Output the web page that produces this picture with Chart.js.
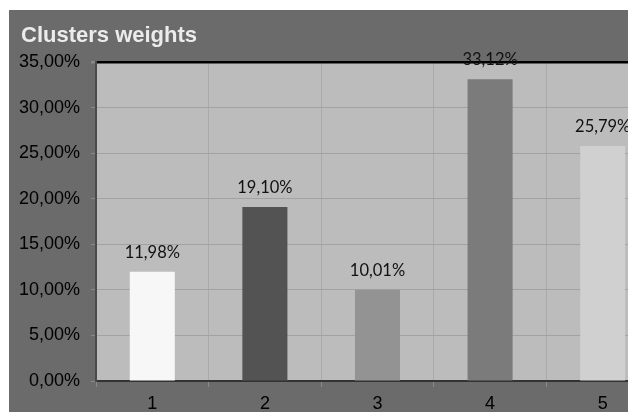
<!DOCTYPE html>
<html>
<head>
<meta charset="utf-8">
<script src="https://cdn.jsdelivr.net/npm/chart.js@4.4.1/dist/chart.umd.min.js"></script>
<style>
  html, body { margin: 0; padding: 0; background: #fff; overflow: hidden; width: 628px; height: 412px; }
  #panel { position: absolute; left: 9px; top: 10px; width: 660px; height: 420px; background: #6b6b6b; }
  #title { position: absolute; left: 21px; top: 24px; font: bold 22px "Liberation Sans", Arial, sans-serif; line-height: 22px; color: #ececec; z-index: 2; }
  canvas { position: absolute; left: 0; top: 0; }
</style>
</head>
<body>
<div id="panel"><canvas id="chart" width="660" height="420"></canvas></div>
<div id="title">Clusters weights</div>
<script>
const clusters = ['1', '2', '3', '4', '5'];
const weights = [11.98, 19.10, 10.01, 33.12, 25.79];
const barColors = ['#f7f7f7', '#535353', '#939393', '#7b7b7b', '#d0d0d0'];
const yMax = 35;
const yStep = 5;

const fmt = v => v.toFixed(2).replace('.', ',') + '%';

// fondo gris del área de trazado
const plotBackground = {
    id: 'plotBackground',
    beforeDraw(chart) {
        const a = chart.chartArea;
        const ctx = chart.ctx;
        ctx.save();
        ctx.fillStyle = '#bcbcbc';
        ctx.fillRect(a.left, a.top, a.right - a.left, a.bottom - a.top);
        ctx.restore();
    }
};

// etiquetas de valor encima de cada barra
const valueLabels = {
    id: 'valueLabels',
    afterDatasetsDraw(chart) {
        const ctx = chart.ctx;
        const meta = chart.getDatasetMeta(0);
        ctx.save();
        ctx.font = '16.5px Lato, "Open Sans", sans-serif';
        ctx.fillStyle = '#111';
        ctx.textAlign = 'center';
        ctx.textBaseline = 'middle';
        meta.data.forEach((bar, i) => {
            ctx.fillText(fmt(weights[i]), bar.x, bar.y - 19);
        });
        ctx.restore();
    }
};

new Chart(document.getElementById('chart').getContext('2d'), {
    type: 'bar',
    data: {
        labels: clusters,
        datasets: [{
            data: weights,
            backgroundColor: barColors,
            borderWidth: 0,
            barPercentage: 0.4,
            categoryPercentage: 1.0
        }]
    },
    options: {
        responsive: false,
        animation: false,
        layout: { padding: { left: 0, top: 52, right: 10, bottom: 0 } },
        plugins: {
            legend: { display: false },
            tooltip: { enabled: false }
        },
        scales: {
            x: {
                grid: {
                    offset: true,
                    color: '#aaaaaa',
                    lineWidth: 1,
                    tickLength: 6,
                    tickColor: '#8a8a8a'
                },
                border: { color: '#333', width: 2 },
                ticks: {
                    color: '#000',
                    padding: 6,
                    font: { family: '"Liberation Sans", Arial, sans-serif', size: 18 }
                },
                afterFit(scale) { scale.height = 49; }
            },
            y: {
                min: 0,
                max: yMax,
                grid: {
                    color: c => c.tick && c.tick.value === yMax ? '#000' : '#a2a2a2',
                    lineWidth: c => c.tick && c.tick.value === yMax ? 2.5 : 1,
                    tickLength: 5,
                    tickColor: '#8a8a8a'
                },
                border: { color: '#4a4a4a', width: 2 },
                ticks: {
                    stepSize: yStep,
                    color: '#000',
                    padding: 11,
                    font: { family: '"Liberation Sans", Arial, sans-serif', size: 18 },
                    callback: v => fmt(v)
                },
                afterFit(scale) { scale.width = 87; }
            }
        }
    },
    plugins: [plotBackground, valueLabels]
});
</script>
</body>
</html>
